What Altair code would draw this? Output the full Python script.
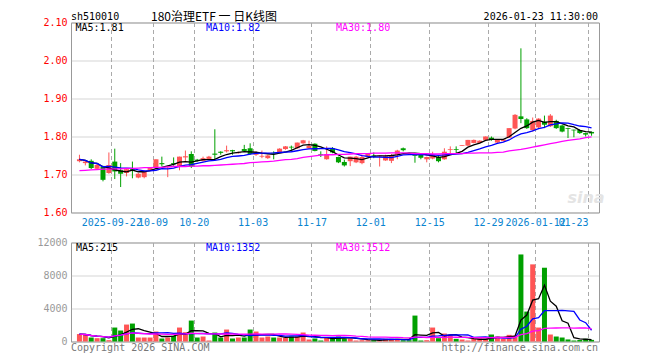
import altair as alt
import pandas as pd

# ---------------- data ----------------
dates = [
    "2025-09-12", "2025-09-15", "2025-09-16", "2025-09-17", "2025-09-18", "2025-09-19",
    "2025-09-22", "2025-09-23", "2025-09-24", "2025-09-25", "2025-09-26", "2025-09-29", "2025-09-30",
    "2025-10-09", "2025-10-10", "2025-10-13", "2025-10-14", "2025-10-15", "2025-10-16", "2025-10-17",
    "2025-10-20", "2025-10-21", "2025-10-22", "2025-10-23", "2025-10-24", "2025-10-27", "2025-10-28",
    "2025-10-29", "2025-10-30", "2025-10-31",
    "2025-11-03", "2025-11-04", "2025-11-05", "2025-11-06", "2025-11-07", "2025-11-10", "2025-11-11",
    "2025-11-12", "2025-11-13", "2025-11-14", "2025-11-17", "2025-11-18", "2025-11-19", "2025-11-20",
    "2025-11-21", "2025-11-24", "2025-11-25", "2025-11-26", "2025-11-27", "2025-11-28",
    "2025-12-01", "2025-12-02", "2025-12-03", "2025-12-04", "2025-12-05", "2025-12-08", "2025-12-09",
    "2025-12-10", "2025-12-11", "2025-12-12", "2025-12-15", "2025-12-16", "2025-12-17", "2025-12-18",
    "2025-12-19", "2025-12-22", "2025-12-23", "2025-12-24", "2025-12-25", "2025-12-26", "2025-12-29",
    "2025-12-30", "2025-12-31",
    "2026-01-05", "2026-01-06", "2026-01-07", "2026-01-08", "2026-01-09", "2026-01-12", "2026-01-13",
    "2026-01-14", "2026-01-15", "2026-01-16", "2026-01-19", "2026-01-20", "2026-01-21", "2026-01-22",
    "2026-01-23",
]

opens = [
    1.735, 1.730, 1.736, 1.715, 1.721, 1.704, 1.734, 1.711, 1.704, 1.714,
    1.692, 1.693, 1.712, 1.717, 1.730, 1.719, 1.730, 1.721, 1.745, 1.754,
    1.739, 1.736, 1.741, 1.755, 1.760, 1.761, 1.764, 1.756, 1.767, 1.769,
    1.752, 1.747, 1.743, 1.757, 1.758, 1.767, 1.773, 1.769, 1.782, 1.769,
    1.781, 1.753, 1.740, 1.769, 1.746, 1.733, 1.735, 1.732, 1.730, 1.746,
    1.750, 1.748, 1.737, 1.736, 1.752, 1.769, 1.757, 1.751, 1.752, 1.740,
    1.742, 1.746, 1.740, 1.765, 1.767, 1.775, 1.776, 1.783, 1.783, 1.791,
    1.797, 1.784, 1.788, 1.797, 1.821, 1.853, 1.845, 1.817, 1.824, 1.839,
    1.827, 1.841, 1.829, 1.822, 1.818, 1.817, 1.809, 1.812,
]
highs = [
    1.752, 1.737, 1.740, 1.727, 1.723, 1.758, 1.768, 1.730, 1.717, 1.734,
    1.704, 1.711, 1.719, 1.740, 1.747, 1.722, 1.745, 1.747, 1.763, 1.761,
    1.741, 1.747, 1.749, 1.819, 1.761, 1.776, 1.765, 1.760, 1.778, 1.782,
    1.761, 1.763, 1.752, 1.761, 1.769, 1.775, 1.776, 1.784, 1.791, 1.789,
    1.782, 1.761, 1.774, 1.772, 1.747, 1.739, 1.747, 1.749, 1.752, 1.756,
    1.758, 1.751, 1.752, 1.754, 1.765, 1.771, 1.758, 1.751, 1.754, 1.747,
    1.760, 1.749, 1.769, 1.774, 1.774, 1.777, 1.791, 1.792, 1.790, 1.800,
    1.800, 1.792, 1.793, 1.822, 1.859, 2.032, 1.848, 1.850, 1.848, 1.855,
    1.859, 1.844, 1.831, 1.823, 1.818, 1.819, 1.810, 1.813,
]
lows = [
    1.732, 1.724, 1.714, 1.712, 1.682, 1.702, 1.688, 1.667, 1.695, 1.690,
    1.690, 1.690, 1.710, 1.715, 1.721, 1.693, 1.723, 1.711, 1.736, 1.717,
    1.734, 1.734, 1.740, 1.739, 1.752, 1.758, 1.752, 1.755, 1.761, 1.752,
    1.749, 1.743, 1.741, 1.740, 1.756, 1.765, 1.765, 1.768, 1.781, 1.768,
    1.761, 1.746, 1.739, 1.756, 1.730, 1.721, 1.722, 1.730, 1.727, 1.745,
    1.743, 1.721, 1.736, 1.730, 1.740, 1.761, 1.752, 1.731, 1.740, 1.732,
    1.740, 1.732, 1.739, 1.752, 1.756, 1.775, 1.775, 1.782, 1.782, 1.790,
    1.789, 1.782, 1.787, 1.796, 1.819, 1.835, 1.820, 1.813, 1.821, 1.822,
    1.825, 1.820, 1.811, 1.796, 1.798, 1.807, 1.800, 1.802,
]
closes = [
    1.740, 1.734, 1.717, 1.725, 1.686, 1.725, 1.708, 1.702, 1.714, 1.710,
    1.702, 1.708, 1.717, 1.740, 1.727, 1.721, 1.727, 1.747, 1.748, 1.721,
    1.736, 1.743, 1.747, 1.752, 1.757, 1.764, 1.761, 1.758, 1.762, 1.754,
    1.758, 1.749, 1.750, 1.755, 1.768, 1.774, 1.771, 1.784, 1.790, 1.775,
    1.762, 1.751, 1.754, 1.758, 1.732, 1.724, 1.747, 1.747, 1.746, 1.754,
    1.747, 1.750, 1.748, 1.751, 1.763, 1.764, 1.754, 1.749, 1.744, 1.746,
    1.751, 1.735, 1.760, 1.767, 1.765, 1.777, 1.791, 1.791, 1.789, 1.800,
    1.791, 1.791, 1.792, 1.822, 1.857, 1.846, 1.822, 1.841, 1.847, 1.831,
    1.855, 1.822, 1.813, 1.820, 1.816, 1.809, 1.805, 1.808,
]
# 30-day average as drawn (its window reaches back before the first candle)
ma30 = [
    1.710, 1.711, 1.712, 1.713, 1.714, 1.714, 1.715, 1.715, 1.716, 1.716,
    1.717, 1.718, 1.718, 1.719, 1.719, 1.720, 1.721, 1.721, 1.721, 1.722,
    1.722, 1.723, 1.723, 1.724, 1.725, 1.726, 1.727, 1.728, 1.729, 1.731,
    1.732, 1.733, 1.734, 1.735, 1.737, 1.739, 1.740, 1.742, 1.745, 1.747,
    1.749, 1.751, 1.752, 1.752, 1.753, 1.753, 1.754, 1.755, 1.755, 1.755,
    1.756, 1.756, 1.756, 1.757, 1.757, 1.757, 1.756, 1.755, 1.755, 1.755,
    1.754, 1.754, 1.755, 1.755, 1.755, 1.755, 1.756, 1.756, 1.757, 1.757,
    1.757, 1.758, 1.759, 1.762, 1.764, 1.766, 1.769, 1.772, 1.775, 1.778,
    1.781, 1.784, 1.787, 1.790, 1.792, 1.794, 1.797, 1.799,
]
volumes = [
    900, 800, 483, 403, 403, 161, 1692, 1329, 2054, 2175,
    483, 483, 483, 1208, 363, 483, 685, 1692, 1128, 2538,
    483, 604, 121, 1088, 483, 1450, 363, 483, 483, 1450,
    1208, 483, 604, 483, 483, 483, 604, 604, 1088, 242,
    363, 121, 483, 483, 604, 363, 363, 121, 161, 161,
    161, 161, 322, 322, 322, 161, 161, 3142, 121, 161,
    1692, 403, 967, 725, 322, 242, 121, 322, 363, 322,
    846, 604, 322, 806, 725, 10550, 3625, 9350, 1692, 8942,
    846, 604, 483, 250, 120, 180, 330, 195,
]

tick_dates = ["2025-09-22", "2025-10-09", "2025-10-20", "2025-11-03", "2025-11-17",
              "2025-12-01", "2025-12-15", "2025-12-29", "2026-01-12", "2026-01-23"]
tick_labels = ["2025-09-22", "10-09", "10-20", "11-03", "11-17",
               "12-01", "12-15", "12-29", "2026-01-12", "01-23"]
price_ticks = [1.6, 1.7, 1.8, 1.9, 2.0, 2.1]
volume_ticks = [0, 4000, 8000, 12000]
ma_names = ["ma5", "ma10", "ma30"]

# ---------------- styles ----------------
RED = "#FF5555"
GREEN = "#00A000"
MA_COLORS = ["#000000", "#0000FF", "#FF00FF"]
GRID = "#AAAAAA"
MONO = "DejaVu Sans Mono"
CJK = "Noto Sans CJK SC"
N = len(dates)
W = 528

df = pd.DataFrame({
    "i": list(range(N)), "date": dates, "open": opens, "high": highs,
    "low": lows, "close": closes, "volume": volumes, "ma30": ma30,
})

tick_pos = [dates.index(d) - 0.5 for d in tick_dates]
label_expr = ("[" + ",".join(f"'{l}'" for l in tick_labels) + "][indexof(["
              + ",".join(str(p) for p in tick_pos) + "], datum.value)]")

xscale = alt.Scale(domain=[-0.5, N - 0.5], nice=False, zero=False)
candle_color = alt.condition("datum.close >= datum.open", alt.value(RED), alt.value(GREEN))

x_main = alt.X("i:Q", scale=xscale, axis=alt.Axis(
    values=tick_pos, labelExpr=label_expr, grid=True, gridDash=[4, 3], gridColor=GRID,
    domain=False, ticks=False, labelPadding=5, labelFont=MONO, labelFontSize=10,
    labelColor="#0A84D0", labelOverlap=False, labelFlush=False,
    labelAlign={"condition": {"test": f"datum.value == {tick_pos[-1]}", "value": "right"},
                "value": "center"},
    title=None))
x_vol = alt.X("i:Q", scale=xscale, axis=alt.Axis(
    values=tick_pos, labels=False, grid=True, gridDash=[4, 3], gridColor=GRID,
    domain=False, ticks=False, title=None))

price_axis = alt.Axis(values=price_ticks, format=".2f", grid=True, gridDash=[1, 1],
                      gridColor=GRID, domain=False, ticks=False, labelColor="#FF0000",
                      labelFont=MONO, labelFontSize=10, labelPadding=4, title=None)
price_scale = alt.Scale(domain=[1.6, 2.1], nice=False, zero=False)
vol_axis = alt.Axis(values=volume_ticks, format="d", grid=True, gridDash=[1, 1],
                    gridColor=GRID, domain=False, ticks=False, labelColor="#999999",
                    labelFont=MONO, labelFontSize=10, labelPadding=4, title=None)
vol_scale = alt.Scale(domain=[0, 12000], nice=False)
ma_color = alt.Color("ma:N", scale=alt.Scale(domain=ma_names, range=MA_COLORS), legend=None)


def txt(s, x, y, color="#000000", size=10, font=MONO, align="left", baseline="middle", **kw):
    return alt.Chart(pd.DataFrame({"a": [0]})).mark_text(
        align=align, baseline=baseline, fontSize=size, font=font, color=color, **kw
    ).encode(x=alt.value(x), y=alt.value(y), text=alt.value(s))


base = alt.Chart(df)

wicks = base.mark_rule(strokeWidth=1, xOffset=0.5).encode(
    x=x_main, y=alt.Y("low:Q", scale=price_scale, axis=price_axis), y2="high:Q",
    color=candle_color)
bodies = base.mark_bar(size=5, xOffset=0.5).encode(
    x=x_main, y=alt.Y("open:Q", scale=price_scale, axis=price_axis), y2="close:Q",
    color=candle_color)
ma_lines = base.transform_window(
    ma5="mean(close)", frame=[-4, 0], sort=[alt.SortField("i")]
).transform_window(
    ma10="mean(close)", frame=[-9, 0], sort=[alt.SortField("i")]
).transform_fold(ma_names, as_=["ma", "val"]).mark_line(strokeWidth=1.3, xOffset=0.5).encode(
    x=x_main, y=alt.Y("val:Q", scale=price_scale, axis=price_axis), color=ma_color)

main = alt.layer(
    wicks, bodies, ma_lines,
    txt("MA5:1.81", 4.5, 5.5, MA_COLORS[0]),
    txt("MA10:1.82", 135, 5.5, MA_COLORS[1]),
    txt("MA30:1.80", 265, 5.5, MA_COLORS[2]),
    txt("sh510010", 0, -3, "#000000", 10, baseline="alphabetic"),
    txt("180治理ETF 一 日K线图", 80, -2, "#000000", 12, CJK, baseline="alphabetic"),
    txt("2026-01-23 11:30:00", 527, -3, "#000000", 10, align="right", baseline="alphabetic"),
    txt("sina", 515, 175, "#E4E4E4", 16, "DejaVu Sans", align="center",
        fontStyle="italic", fontWeight="bold"),
).properties(width=W, height=190)

vbars = base.mark_bar(size=5, xOffset=0.5).encode(
    x=x_vol, y=alt.Y("volume:Q", scale=vol_scale, axis=vol_axis), color=candle_color)
vma = base.transform_window(
    ma5="mean(volume)", frame=[-4, 0], sort=[alt.SortField("i")]
).transform_window(
    ma10="mean(volume)", frame=[-9, 0], sort=[alt.SortField("i")]
).transform_window(
    ma30="mean(volume)", frame=[-29, 0], sort=[alt.SortField("i")]
).transform_fold(ma_names, as_=["ma", "val"]).mark_line(strokeWidth=1.3, xOffset=0.5).encode(
    x=x_vol, y=alt.Y("val:Q", scale=vol_scale, axis=vol_axis), color=ma_color)

vol = alt.layer(
    vbars, vma,
    txt("MA5:215", 5, 5.5, MA_COLORS[0]),
    txt("MA10:1352", 135, 5.5, MA_COLORS[1]),
    txt("MA30:1512", 265, 5.5, MA_COLORS[2]),
    txt("Copyright 2026 SINA.COM", 0, 105, "#777777"),
    txt("http://finance.sina.com.cn", 527, 105, "#777777", align="right"),
).properties(width=W, height=99)

chart = alt.vconcat(main, vol, spacing=8).properties(
    padding={"left": 28, "top": 1.5, "right": 10, "bottom": 5},
    background="#FFFFFF",
).configure_view(stroke="#999999", strokeWidth=1)

chart.save("out.html", embed_options={"renderer": "svg", "actions": False})
